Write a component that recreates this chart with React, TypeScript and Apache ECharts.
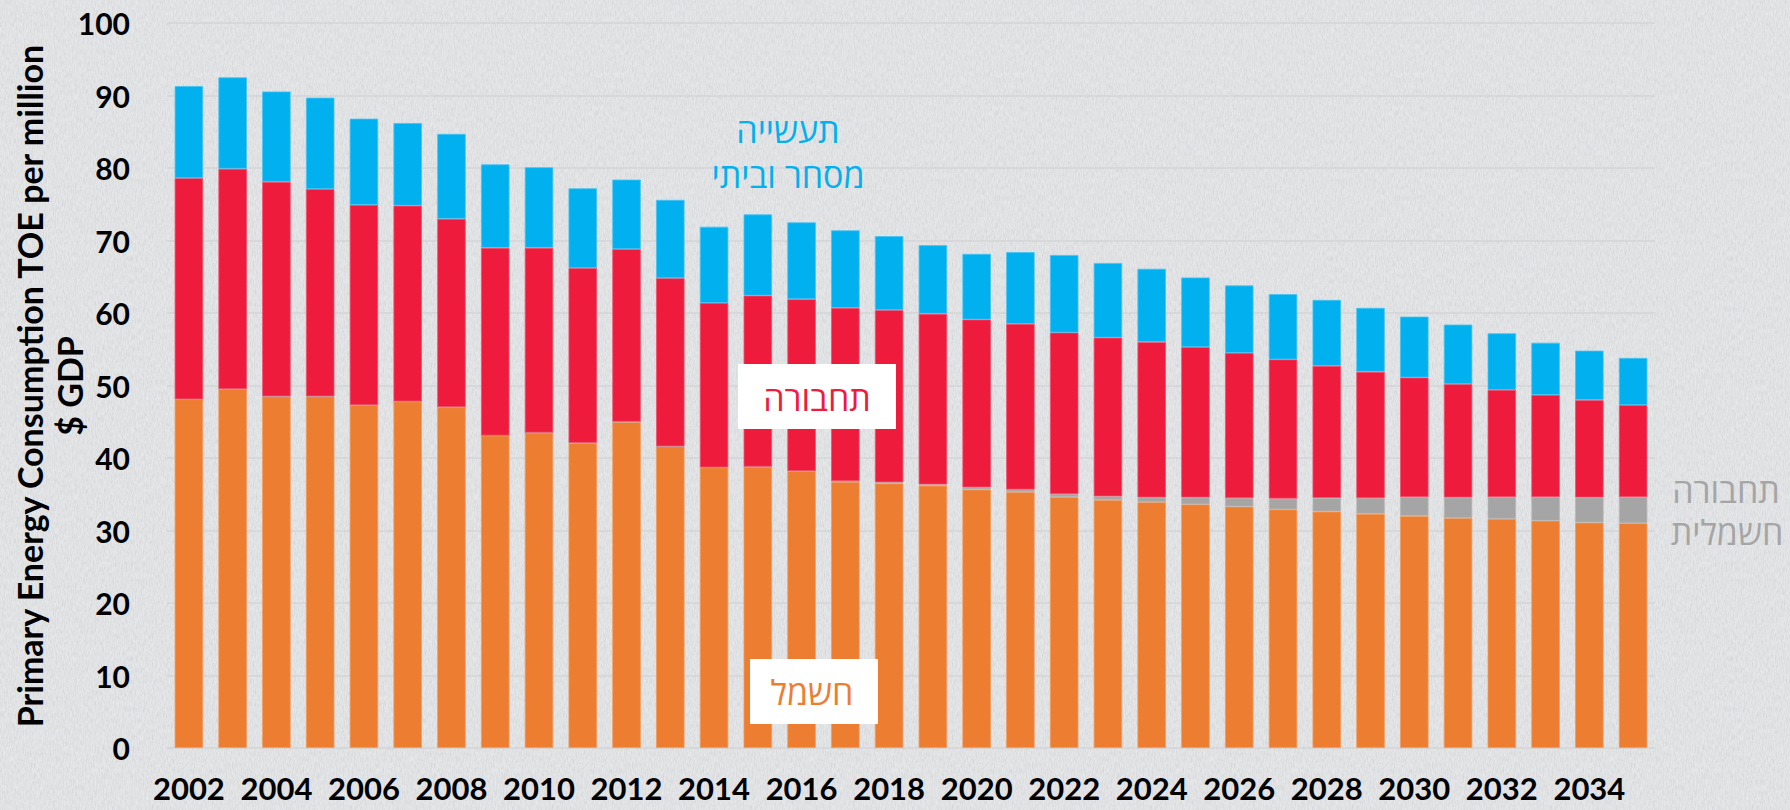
import React, { useEffect, useRef } from "react";
import * as echarts from "echarts";

const years = [
  "2002", "2003", "2004", "2005", "2006", "2007", "2008", "2009", "2010", "2011",
  "2012", "2013", "2014", "2015", "2016", "2017", "2018", "2019", "2020", "2021",
  "2022", "2023", "2024", "2025", "2026", "2027", "2028", "2029", "2030", "2031",
  "2032", "2033", "2034", "2035",
];

// חשמל (electricity)
const electricity = [
  48.1, 49.5, 48.5, 48.5, 47.3, 47.8, 47.0, 43.1, 43.5, 42.1,
  45.0, 41.6, 38.7, 38.8, 38.2, 36.7, 36.5, 36.2, 35.65, 35.3,
  34.6, 34.2, 33.9, 33.6, 33.3, 32.9, 32.6, 32.3, 32.0, 31.7,
  31.6, 31.35, 31.1, 31.0,
];

// תחבורה חשמלית (electric transport)
const electricTransport = [
  0, 0, 0, 0, 0, 0, 0, 0, 0, 0,
  0, 0, 0, 0, 0, 0.1, 0.15, 0.15, 0.3, 0.35,
  0.4, 0.5, 0.65, 0.95, 1.15, 1.5, 1.9, 2.15, 2.6, 2.85,
  3.0, 3.25, 3.45, 3.6,
];

// תחבורה (transport)
const transport = [
  30.5, 30.4, 29.6, 28.6, 27.6, 27.0, 26.0, 25.9, 25.5, 24.1,
  23.8, 23.2, 22.7, 23.6, 23.7, 23.9, 23.75, 23.55, 23.15, 22.85,
  22.3, 21.9, 21.45, 20.75, 20.05, 19.2, 18.2, 17.45, 16.5, 15.65,
  14.8, 14.1, 13.45, 12.7,
];

// תעשייה מסחר וביתי (industry, commerce & residential)
const industry = [
  12.7, 12.6, 12.45, 12.6, 11.9, 11.4, 11.7, 11.5, 11.1, 11.0,
  9.6, 10.8, 10.5, 11.2, 10.6, 10.7, 10.2, 9.45, 9.05, 9.9,
  10.7, 10.3, 10.1, 9.6, 9.3, 9.0, 9.1, 8.8, 8.4, 8.2,
  7.8, 7.2, 6.8, 6.5,
];

const axisTitleLines = ["Primary Energy Consumption TOE per million", "$ GDP"];

const COLORS = {
  electricity: "#ED7D31",
  electricTransport: "#A5A5A5",
  transport: "#EE1B3D",
  industry: "#00B0EF",
};

const LATIN = "Lato, 'Open Sans', 'Liberation Sans', sans-serif";
const HEB = "'Open Sans', 'DejaVu Sans', 'Liberation Sans', sans-serif";

const NOISE =
  "url(\"data:image/svg+xml;utf8," +
  encodeURIComponent(
    "<svg xmlns='http://www.w3.org/2000/svg' width='400' height='400'>" +
      "<filter id='n'><feTurbulence type='fractalNoise' baseFrequency='0.9 0.18' numOctaves='3' stitchTiles='stitch'/>" +
      "<feColorMatrix type='matrix' values='0 0 0 0 0.45  0 0 0 0 0.45  0 0 0 0 0.47  0 0 0 -1.6 1.05'/></filter>" +
      "<rect width='400' height='400' filter='url(#n)' opacity='0.35'/></svg>"
  ) +
  "\")";

function hebText(text: string, x: number, y: number, color: string, size: number) {
  return {
    type: "text",
    x,
    y,
    z: 20,
    style: {
      text,
      fill: color,
      fontSize: size,
      fontFamily: HEB,
      fontWeight: "normal",
      align: "center",
      verticalAlign: "middle",
      textAlign: "center",
      textVerticalAlign: "middle",
    },
  };
}

function titleText(text: string, x: number, y: number) {
  return {
    type: "text",
    x,
    y,
    rotation: Math.PI / 2,
    style: {
      text,
      fill: "#000",
      fontSize: 34,
      fontWeight: "bold",
      fontFamily: LATIN,
      align: "center",
      verticalAlign: "middle",
      textAlign: "center",
      textVerticalAlign: "middle",
    },
  };
}

export default function App() {
  const ref = useRef<HTMLDivElement>(null);

  useEffect(() => {
    if (!ref.current) return;
    const chart = echarts.init(ref.current, undefined, { renderer: "svg" });

    const mk = (name: string, data: number[], color: string, border: string) => ({
      name,
      type: "bar",
      stack: "total",
      data,
      barWidth: "65%",
      itemStyle: { color, borderColor: border, borderWidth: 0.8 },
      emphasis: { disabled: true },
    });

    chart.setOption({
      animation: false,
      backgroundColor: "transparent",
      grid: { left: 167, right: 135, top: 23, bottom: 62, containLabel: false },
      xAxis: {
        type: "category",
        data: years,
        axisLine: { show: false },
        axisTick: { show: false },
        axisLabel: {
          interval: 1,
          margin: 26,
          lineHeight: 28,
          color: "#000",
          fontFamily: LATIN,
          fontWeight: "bold",
          fontSize: 31,
        },
      },
      yAxis: {
        type: "value",
        min: 0,
        max: 100,
        interval: 10,
        axisLine: { show: false },
        axisTick: { show: false },
        splitLine: { show: true, lineStyle: { color: "#d3d4d6", width: 1.5 } },
        axisLabel: {
          margin: 37,
          color: "#000",
          fontFamily: LATIN,
          fontWeight: "bold",
          fontSize: 30,
        },
      },
      series: [
        mk("חשמל", electricity, COLORS.electricity, "#F19A5C"),
        mk("תחבורה חשמלית", electricTransport, COLORS.electricTransport, "#B8B8B8"),
        mk("תחבורה", transport, COLORS.transport, "#F0506A"),
        mk("תעשייה מסחר וביתי", industry, COLORS.industry, "#45C3F2"),
      ],
      graphic: [
        titleText(axisTitleLines[0], 29, 386),
        titleText(axisTitleLines[1], 69, 386),
        hebText("תעשייה", 788, 130, COLORS.industry, 34),
        hebText("מסחר וביתי", 788, 175, COLORS.industry, 34),
        {
          type: "rect",
          z: 15,
          shape: { x: 738, y: 364, width: 158, height: 65 },
          style: { fill: "#ffffff" },
        },
        hebText("תחבורה", 817, 398, COLORS.transport, 34),
        {
          type: "rect",
          z: 15,
          shape: { x: 750, y: 659, width: 128, height: 65 },
          style: { fill: "#ffffff" },
        },
        hebText("חשמל", 812, 692, COLORS.electricity, 34),
        hebText("תחבורה", 1726, 490, COLORS.electricTransport, 34),
        hebText("חשמלית", 1727, 532, COLORS.electricTransport, 34),
      ],
    });

    return () => chart.dispose();
  }, []);

  return (
    <div
      style={{
        position: "absolute",
        left: 0,
        top: 0,
        width: 1790,
        height: 810,
        backgroundColor: "#e5e6e8",
        backgroundImage: NOISE,
      }}
    >
      <div ref={ref} style={{ width: 1790, height: 810 }} />
    </div>
  );
}
